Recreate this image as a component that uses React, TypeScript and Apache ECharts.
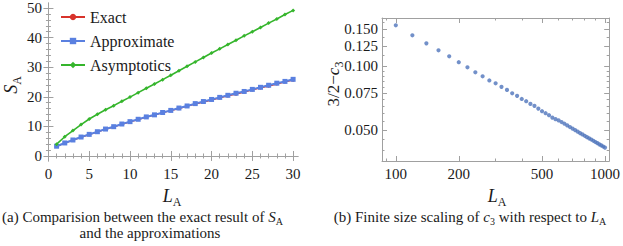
import React, { useEffect, useRef } from "react";
import * as echarts from "echarts";

// ---------- data: panel (a) ----------
const L_A = [1, 2, 3, 4, 5, 6, 7, 8, 9, 10, 11, 12, 13, 14, 15, 16, 17, 18, 19, 20, 21, 22, 23, 24, 25, 26, 27, 28, 29, 30];
const exact = [3.2, 4.3, 5.3, 6.3, 7.2, 8.1, 9.0, 9.8, 10.7, 11.5, 12.3, 13.1, 13.8, 14.6, 15.3, 16.0, 16.8, 17.5, 18.2, 18.9, 19.6, 20.3, 20.9, 21.6, 22.3, 23.0, 23.6, 24.3, 25.0, 25.6];
const approximate = [3.3, 4.4, 5.4, 6.4, 7.3, 8.2, 9.1, 9.9, 10.8, 11.6, 12.4, 13.2, 13.9, 14.7, 15.4, 16.2, 16.9, 17.7, 18.4, 19.1, 19.8, 20.5, 21.2, 21.8, 22.5, 23.2, 23.9, 24.6, 25.2, 25.9];
const asymptotics = [4.0, 6.5, 8.6, 10.6, 12.5, 14.1, 15.6, 17.0, 18.5, 19.9, 21.4, 22.9, 24.3, 25.8, 27.3, 28.8, 30.3, 31.8, 33.3, 34.8, 36.2, 37.7, 39.1, 40.6, 42.0, 43.4, 44.9, 46.3, 47.8, 49.2];
const leftXTicks = [0, 5, 10, 15, 20, 25, 30];
const leftXMinor = [1, 2, 3, 4, 6, 7, 8, 9, 11, 12, 13, 14, 16, 17, 18, 19, 21, 22, 23, 24, 26, 27, 28, 29];
const leftYTicks = [0, 10, 20, 30, 40, 50];
const leftYMinor = [2, 4, 6, 8, 12, 14, 16, 18, 22, 24, 26, 28, 32, 34, 36, 38, 42, 44, 46, 48];

// ---------- data: panel (b) ----------
const L_B = [100, 120, 140, 160, 180, 200, 220, 240, 260, 280, 300, 320, 340, 360, 380, 400, 420, 440, 460, 480, 500, 520, 540, 560, 580, 600, 620, 640, 660, 680, 700, 720, 740, 760, 780, 800, 820, 840, 860, 880, 900, 920, 940, 960, 980, 1000];
const deltaC3 = [0.1567, 0.1405, 0.1287, 0.1193, 0.1117, 0.1047, 0.0991, 0.0938, 0.0898, 0.0858, 0.0832, 0.0800, 0.0774, 0.0746, 0.0725, 0.0701, 0.0684, 0.0664, 0.0650, 0.0631, 0.0613, 0.0600, 0.0587, 0.0572, 0.0562, 0.0555, 0.0545, 0.0535, 0.0525, 0.0516, 0.0507, 0.0499, 0.0491, 0.0483, 0.0476, 0.0469, 0.0462, 0.0456, 0.0450, 0.0444, 0.0438, 0.0433, 0.0427, 0.0422, 0.0417, 0.0412];
const rightXTicks = [100, 200, 500, 1000];
const rightXMinor = [90, 300, 400, 600, 700, 800, 900];
const rightYTicks = [0.05, 0.075, 0.1, 0.125, 0.15];
const rightYMinor = [0.04, 0.045, 0.055, 0.06, 0.065, 0.07, 0.08, 0.085, 0.09, 0.095, 0.1125, 0.1375, 0.1625];

const SERIF = "Liberation Serif";
const FRAME = "#a0a0a0";
const TXT = "#1a1a1a";

function frameAxes(kind: "x" | "y", grid: number, type: string, min: number, max: number, major: number[], minor: number[], fmt: (v: number) => string) {
  const base = { gridIndex: grid, type, min, max, splitLine: { show: false } } as any;
  if (type === "log") base.logBase = 10;
  const sides = kind === "x" ? ["bottom", "top"] : ["left", "right"];
  const out: any[] = [];
  sides.forEach((pos, si) => {
    out.push({
      ...base,
      position: pos,
      axisLine: { show: true, lineStyle: { color: FRAME, width: 1 } },
      axisTick: { show: true, inside: true, length: 5, customValues: major, lineStyle: { color: FRAME } },
      axisLabel: si === 0
        ? { show: true, customValues: major, formatter: fmt, fontFamily: SERIF, fontSize: 15, color: TXT, margin: kind === "x" ? 5 : 4 }
        : { show: false },
    });
    out.push({
      ...base,
      position: pos,
      axisLine: { show: false },
      axisTick: { show: true, inside: true, length: 2.5, customValues: minor, lineStyle: { color: FRAME } },
      axisLabel: { show: false },
    });
  });
  return out;
}

function App() {
  const ref = useRef<HTMLDivElement>(null);
  useEffect(() => {
    if (!ref.current) return;
    const chart = echarts.init(ref.current, undefined, { renderer: "svg" });

    const xAxes = [
      ...frameAxes("x", 0, "value", -0.3, 30.6, leftXTicks, leftXMinor, (v) => String(v)),
      ...frameAxes("x", 1, "log", 85.9, 1047, rightXTicks, rightXMinor, (v) => String(Math.round(v))),
    ];
    const yAxes = [
      ...frameAxes("y", 0, "value", -1.7, 51.7, leftYTicks, leftYMinor, (v) => String(v)),
      ...frameAxes("y", 1, "log", 0.0356, 0.1697, rightYTicks, rightYMinor, (v) => v.toFixed(3)),
    ];

    const it = (size: number, lh: number) => ({ fontFamily: SERIF, fontStyle: "italic", fontSize: size, fill: TXT, lineHeight: lh, verticalAlign: "bottom" });
    const rm = (size: number, lh: number) => ({ fontFamily: SERIF, fontSize: size, fill: TXT, lineHeight: lh, verticalAlign: "bottom" });
    const sub = (size: number, drop: number) => ({ fontFamily: SERIF, fontSize: size, fill: TXT, verticalAlign: "bottom", padding: [0, 0, -drop, 0] });

    chart.setOption({
      animation: false,
      grid: [
        { left: 46, top: 3, width: 252, height: 158 },
        { left: 382, top: 18, width: 230, height: 143 },
      ],
      xAxis: xAxes,
      yAxis: yAxes,
      legend: {
        orient: "vertical",
        left: 55,
        top: 4,
        itemWidth: 24,
        itemHeight: 8,
        itemGap: 8,
        data: ["Exact", "Approximate", "Asymptotics"],
        textStyle: { fontFamily: SERIF, fontSize: 16, color: TXT },
      },
      series: [
        {
          name: "Exact", type: "line", xAxisIndex: 0, yAxisIndex: 0,
          data: L_A.map((x, i) => [x, exact[i]]),
          color: "#d8332b", symbol: "circle", symbolSize: 3, lineStyle: { width: 1.2 }, z: 2,
        },
        {
          name: "Approximate", type: "line", xAxisIndex: 0, yAxisIndex: 0,
          data: L_A.map((x, i) => [x, approximate[i]]),
          color: "#5a80e0", symbol: "rect", symbolSize: 5, lineStyle: { width: 2 }, z: 3,
        },
        {
          name: "Asymptotics", type: "line", xAxisIndex: 0, yAxisIndex: 0,
          data: L_A.map((x, i) => [x, asymptotics[i]]),
          color: "#35b52c", symbol: "diamond", symbolSize: 4, lineStyle: { width: 1.6 }, z: 3,
        },
        {
          name: "scaling", type: "scatter", xAxisIndex: 4, yAxisIndex: 4,
          data: L_B.map((x, i) => [x, deltaC3[i]]),
          color: "#4f74bc", symbol: "circle", symbolSize: 4.2,
        },
      ],
      graphic: [
        {
          type: "text", x: 12, y: 85, rotation: Math.PI / 2,
          style: { text: "{i|S}{s|A}", align: "center", verticalAlign: "middle", rich: { i: it(18, 16), s: sub(12, 3) } },
        },
        {
          type: "text", x: 172, y: 198,
          style: { text: "{i|L}{s|A}", align: "center", verticalAlign: "middle", rich: { i: it(18, 14), s: sub(12, 3) } },
        },
        {
          type: "text", x: 497, y: 198,
          style: { text: "{i|L}{s|A}", align: "center", verticalAlign: "middle", rich: { i: it(18, 14), s: sub(12, 3) } },
        },
        {
          type: "text", x: 334, y: 84, rotation: Math.PI / 2,
          style: { text: "{n|3/2−}{i|c}{s|3}", align: "center", verticalAlign: "middle", rich: { n: rm(17, 16), i: it(17, 16), s: sub(12, 3) } },
        },
        {
          type: "text", x: 2, y: 218,
          style: {
            text: "{n|(a) Comparision between the exact result of }{i|S}{s|A}", verticalAlign: "middle",
            rich: { n: rm(15, 13), i: it(15, 13), s: sub(10, 2) },
          },
        },
        {
          type: "text", x: 150, y: 233,
          style: { text: "and the approximations", align: "center", verticalAlign: "middle", fontFamily: SERIF, fontSize: 15, fill: TXT, lineHeight: 13 },
        },
        {
          type: "text", x: 470, y: 218,
          style: {
            text: "{n|(b) Finite size scaling of }{i|c}{s|3}{n| with respect to }{i|L}{s|A}", align: "center", verticalAlign: "middle",
            rich: { n: rm(15, 13), i: it(15, 13), s: sub(10, 2) },
          },
        },
      ],
    });
    return () => chart.dispose();
  }, []);
  return <div ref={ref} style={{ width: 623, height: 246, position: "absolute", left: 0, top: 0, background: "#fff" }} />;
}

export default App;
